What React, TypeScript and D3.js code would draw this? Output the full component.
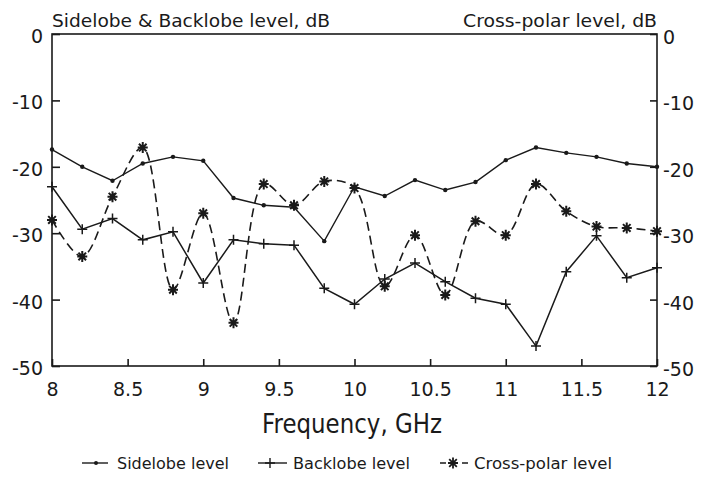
import { useEffect, useRef } from "react";
import * as d3 from "d3";

const freqs = [8, 8.2, 8.4, 8.6, 8.8, 9, 9.2, 9.4, 9.6, 9.8, 10, 10.2, 10.4, 10.6, 10.8, 11, 11.2, 11.4, 11.6, 11.8, 12];
const sidelobe = [-17.4, -20, -22.1, -19.5, -18.5, -19.1, -24.7, -25.8, -26.1, -31.2, -23, -24.4, -22, -23.5, -22.3, -19, -17.1, -17.9, -18.5, -19.5, -20];
const backlobe = [-23, -29.4, -27.8, -31, -29.8, -37.5, -31, -31.6, -31.8, -38.3, -40.7, -36.9, -34.5, -37.3, -39.8, -40.7, -47, -35.8, -30.4, -36.7, -35.2];
const crosspolar = [-28, -33.5, -24.5, -17.1, -38.5, -27, -43.5, -22.6, -25.8, -22.2, -23.2, -38, -30.3, -39.3, -28.2, -30.3, -22.6, -26.7, -29, -29.2, -29.7];
const xTicks = [8, 8.5, 9, 9.5, 10, 10.5, 11, 11.5, 12];
const yTicks = [0, -10, -20, -30, -40, -50];

const W = 701;
const H = 479;
const ink = "#1a1a1a";
const font = "'DejaVu Sans', sans-serif";

export default function App() {
  const ref = useRef<SVGSVGElement>(null);

  useEffect(() => {
    const svg = d3.select(ref.current);
    svg.selectAll("*").remove();

    const margin = { top: 34, right: 44, bottom: 113, left: 52 };
    const width = W - margin.left - margin.right;
    const height = H - margin.top - margin.bottom;

    const x = d3.scaleLinear().domain([8, 12]).range([0, width]);
    const y = d3.scaleLinear().domain([-50, 0]).range([height, 0]);

    const g = svg.append("g").attr("transform", `translate(${margin.left},${margin.top})`);

    // frame
    g.append("rect")
      .attr("width", width)
      .attr("height", height)
      .attr("fill", "none")
      .attr("stroke", ink)
      .attr("stroke-width", 1.6);

    // bottom axis, ticks pointing inward
    const xAxis = g.append("g")
      .attr("transform", `translate(0,${height})`)
      .call(d3.axisBottom(x).tickValues(xTicks).tickSizeInner(-7).tickSizeOuter(0).tickPadding(17).tickFormat((d) => String(d)));
    xAxis.select(".domain").remove();
    xAxis.selectAll("line").attr("stroke", ink).attr("stroke-width", 1.6);
    xAxis.selectAll("text").attr("font-family", font).attr("font-size", 19).attr("fill", ink);

    const yl = g.append("g")
      .call(d3.axisLeft(y).tickValues(yTicks).tickSizeInner(-8).tickSizeOuter(0).tickPadding(9).tickFormat((d) => String(d)));
    yl.select(".domain").remove();
    yl.selectAll("line").attr("stroke", ink).attr("stroke-width", 1.6);
    yl.selectAll("text").attr("font-family", font).attr("font-size", 19).attr("fill", ink).attr("dy", "0.45em");

    const yr = g.append("g")
      .attr("transform", `translate(${width},0)`)
      .call(d3.axisRight(y).tickValues(yTicks).tickSizeInner(-7).tickSizeOuter(0).tickPadding(6).tickFormat((d) => String(d)));
    yr.select(".domain").remove();
    yr.selectAll("line").attr("stroke", ink).attr("stroke-width", 1.6);
    yr.selectAll("text").attr("font-family", font).attr("font-size", 19).attr("fill", ink).attr("dy", "0.5em");

    const mk = (vals: number[]) => freqs.map((f, i) => [f, vals[i]] as [number, number]);

    const lineLin = d3.line<[number, number]>().x((d) => x(d[0])).y((d) => y(d[1]));
    const lineSmooth = d3.line<[number, number]>().x((d) => x(d[0])).y((d) => y(d[1])).curve(d3.curveCatmullRom.alpha(0.5));

    // sidelobe
    g.append("path").datum(mk(sidelobe)).attr("d", lineLin)
      .attr("fill", "none").attr("stroke", ink).attr("stroke-width", 1.4);
    g.selectAll(".dot").data(mk(sidelobe)).enter().append("circle")
      .attr("cx", (d) => x(d[0])).attr("cy", (d) => y(d[1])).attr("r", 2.2).attr("fill", ink);

    // backlobe
    g.append("path").datum(mk(backlobe)).attr("d", lineLin)
      .attr("fill", "none").attr("stroke", ink).attr("stroke-width", 1.5);
    const plus = "M-5,0H5M0,-5V5";
    g.selectAll(".plus").data(mk(backlobe)).enter().append("path")
      .attr("transform", (d) => `translate(${x(d[0])},${y(d[1])})`)
      .attr("d", plus).attr("stroke", ink).attr("stroke-width", 1.5).attr("fill", "none");

    // cross-polar
    g.append("path").datum(mk(crosspolar)).attr("d", lineSmooth)
      .attr("fill", "none").attr("stroke", ink).attr("stroke-width", 1.6).attr("stroke-dasharray", "9,5");
    const star = "M-5,0H5M0,-5.5V5.5M-3.8,-3.8L3.8,3.8M-3.8,3.8L3.8,-3.8";
    g.selectAll(".star").data(mk(crosspolar)).enter().append("path")
      .attr("transform", (d) => `translate(${x(d[0])},${y(d[1])})`)
      .attr("d", star).attr("stroke", ink).attr("stroke-width", 2).attr("fill", "none");

    // titles
    svg.append("text").attr("x", 52).attr("y", 27).attr("font-family", font).attr("font-size", 18)
      .attr("fill", ink).attr("textLength", 278).attr("lengthAdjust", "spacingAndGlyphs")
      .text("Sidelobe & Backlobe level, dB");
    svg.append("text").attr("x", 463).attr("y", 27).attr("font-family", font).attr("font-size", 18)
      .attr("fill", ink).attr("textLength", 194).attr("lengthAdjust", "spacingAndGlyphs")
      .text("Cross-polar level, dB");
    svg.append("text").attr("x", 262).attr("y", 433).attr("font-family", font).attr("font-size", 27)
      .attr("fill", ink).attr("textLength", 180).attr("lengthAdjust", "spacingAndGlyphs")
      .text("Frequency, GHz");

    // legend
    const ly = 463;
    const leg = svg.append("g");
    leg.append("line").attr("x1", 82).attr("x2", 108).attr("y1", ly).attr("y2", ly).attr("stroke", ink).attr("stroke-width", 1.4);
    leg.append("circle").attr("cx", 96).attr("cy", ly).attr("r", 2).attr("fill", ink);
    leg.append("text").attr("x", 117).attr("y", ly + 5.5).attr("font-family", font).attr("font-size", 16)
      .attr("fill", ink).attr("textLength", 112).attr("lengthAdjust", "spacingAndGlyphs").text("Sidelobe level");

    leg.append("line").attr("x1", 258).attr("x2", 287).attr("y1", ly).attr("y2", ly).attr("stroke", ink).attr("stroke-width", 1.4);
    leg.append("path").attr("transform", `translate(270,${ly})`).attr("d", plus).attr("stroke", ink).attr("stroke-width", 1.4);
    leg.append("text").attr("x", 293).attr("y", ly + 5.5).attr("font-family", font).attr("font-size", 16)
      .attr("fill", ink).attr("textLength", 117).attr("lengthAdjust", "spacingAndGlyphs").text("Backlobe level");

    leg.append("line").attr("x1", 440).attr("x2", 468).attr("y1", ly).attr("y2", ly).attr("stroke", ink).attr("stroke-width", 1.6).attr("stroke-dasharray", "6,16");
    leg.append("path").attr("transform", `translate(453,${ly})`).attr("d", star).attr("stroke", ink).attr("stroke-width", 1.8);
    leg.append("text").attr("x", 474).attr("y", ly + 5.5).attr("font-family", font).attr("font-size", 16)
      .attr("fill", ink).attr("textLength", 138).attr("lengthAdjust", "spacingAndGlyphs").text("Cross-polar level");
  }, []);

  return (
    <svg ref={ref} width={W} height={H} style={{ position: "absolute", left: 0, top: 0, background: "#fff" }} />
  );
}
